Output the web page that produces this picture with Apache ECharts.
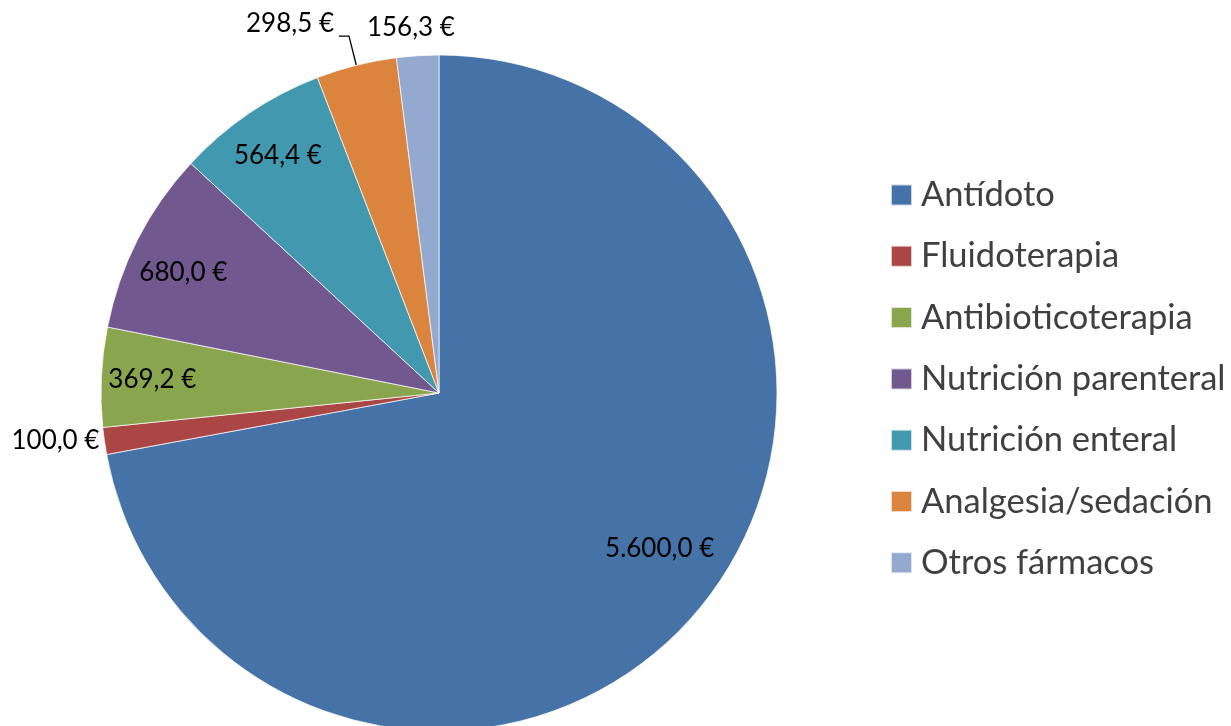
<!DOCTYPE html>
<html><head><meta charset="utf-8">
<script src="https://cdn.jsdelivr.net/npm/echarts@6/dist/echarts.min.js"></script>
<style>html,body{margin:0;padding:0;background:#fff}#c{width:1231px;height:726px}</style>
</head><body><div id="c"></div>
<script>
const categories = ['Antídoto','Fluidoterapia','Antibioticoterapia','Nutrición parenteral','Nutrición enteral','Analgesia/sedación','Otros fármacos'];
const values = [5600.0, 100.0, 369.2, 680.0, 564.4, 298.5, 156.3];
const colors = ['#4572A7','#AA4643','#89A54E','#71588F','#4198AF','#DB843D','#93A9CF'];
const outsideLabel = [false, true, false, false, false, true, true];

const FONT = 'Lato';
function fmt(v){
  const p = v.toFixed(1).split('.');
  return p[0].replace(/\B(?=(\d{3})+(?!\d))/g, '.') + ',' + p[1] + ' €';
}
const lineCfg = [
  {show:false, length:0, length2:0},
  {show:false, length:0, length2:0},
  {show:false, length:0, length2:0},
  {show:false, length:0, length2:0},
  {show:false, length:0, length2:0},
  {show:true, length:30, length2:10},
  {show:false, length:28, length2:0}
];

const mainData = categories.map((n,i)=>({
  name:n, value:values[i],
  itemStyle:{color:colors[i]},
  label:{show:outsideLabel[i]},
  labelLine:lineCfg[i]
}));
const overlayData = categories.map((n,i)=>({
  name:n, value:values[i],
  label:{show:!outsideLabel[i]}
}));

const chart = echarts.init(document.getElementById('c'));
chart.setOption({
  animation:false,
  backgroundColor:'#fff',
  legend:{
    orient:'vertical', left:890, top:175, padding:0,
    data:categories,
    icon:'rect', itemWidth:21, itemHeight:21, itemGap:21.3,
    textStyle:{fontFamily:FONT, fontSize:34.5, lineHeight:40, color:'#404040', padding:[0,0,0,4]},
    selectedMode:false
  },
  series:[
    {
      type:'pie', center:[439,393], radius:[0,338], startAngle:90, clockwise:true,
      avoidLabelOverlap:false, silent:true,
      itemStyle:{borderColor:'rgba(255,255,255,0.7)', borderWidth:1},
      label:{position:'outside', formatter:p=>fmt(p.value), fontFamily:FONT, fontSize:26, color:'#000', alignTo:'none'},
      labelLine:{lineStyle:{color:'#000', width:1.3}, smooth:false},
      labelLayout:function(p){
        if(p.dataIndex===6) return {align:'center'};
        if(p.dataIndex===5) return {verticalAlign:'bottom'};
      },
      data:mainData
    },
    {
      type:'pie', center:[439,393], radius:[230,338], startAngle:90, clockwise:true,
      avoidLabelOverlap:false, silent:true,
      itemStyle:{color:'rgba(0,0,0,0)', borderWidth:0},
      label:{position:'inside', formatter:p=>fmt(p.value), fontFamily:FONT, fontSize:26, color:'#000'},
      labelLine:{show:false},
      labelLayout:function(p){
        if(p.dataIndex===0) return {dy:-28};
        if(p.dataIndex===3) return {dy:10};
      },
      data:overlayData
    }
  ]
});
</script></body></html>
